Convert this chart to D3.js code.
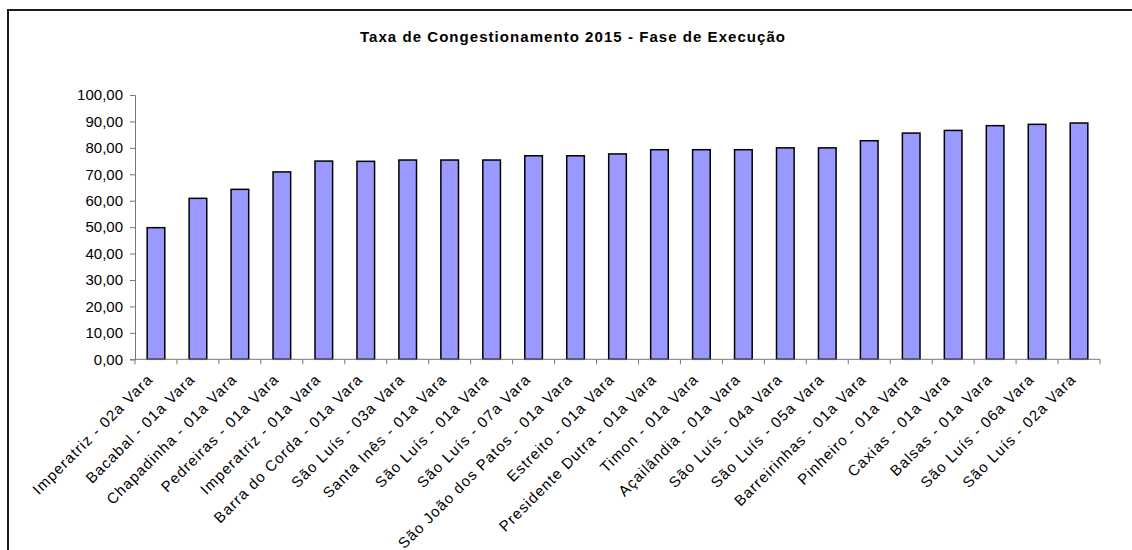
<!DOCTYPE html>
<html><head><meta charset="utf-8">
<script src="https://cdn.jsdelivr.net/npm/d3@7"></script>
<style>body{margin:0;background:#fff;}svg{display:block;font-family:"Liberation Sans",Arial,sans-serif;}</style>
</head><body>
<svg id="c" width="1132" height="550"></svg>
<script>
const title = "Taxa de Congestionamento 2015 - Fase de Execução";
const categories = [
  "Imperatriz  - 02a Vara","Bacabal  - 01a Vara","Chapadinha  - 01a Vara","Pedreiras  - 01a Vara",
  "Imperatriz  - 01a Vara","Barra do Corda  - 01a Vara","São Luís  - 03a Vara","Santa Inês  - 01a Vara",
  "São Luís  - 01a Vara","São Luís  - 07a Vara","São João dos Patos  - 01a Vara","Estreito  - 01a Vara",
  "Presidente Dutra  - 01a Vara","Timon  - 01a Vara","Açailândia  - 01a Vara","São Luís  - 04a Vara",
  "São Luís  - 05a Vara","Barreirinhas  - 01a Vara","Pinheiro  - 01a Vara","Caxias  - 01a Vara",
  "Balsas  - 01a Vara","São Luís  - 06a Vara","São Luís  - 02a Vara"];
const values = [49.8,60.9,64.3,70.9,75.0,74.9,75.4,75.4,75.4,77.0,77.0,77.7,79.3,79.3,79.3,80.0,80.0,82.7,85.6,86.6,88.4,88.9,89.4];
const yTicks = [0,10,20,30,40,50,60,70,80,90,100];

const svg = d3.select("#c");
const m = {left:135, right:1100, top:95, bottom:359.3};

svg.append("rect").attr("x",8).attr("y",10).attr("width",1200).attr("height",700)
  .attr("fill","none").attr("stroke","#1a1a1a").attr("stroke-width",2);

svg.append("text").attr("x",573).attr("y",42).attr("text-anchor","middle")
  .attr("font-size",15).attr("font-weight","bold").attr("letter-spacing",1.05).text(title);

const x = d3.scaleBand().domain(categories).range([m.left,m.right]).paddingInner(0.58).paddingOuter(0.29);
const xb = d3.scaleBand().domain(categories).range([m.left,m.right]);
const y = d3.scaleLinear().domain([0,100]).range([m.bottom,m.top]);
const fmt = v => d3.format(".2f")(v).replace(".",",");

// y axis
const ya = svg.append("g").attr("transform",`translate(${m.left},0)`)
  .call(d3.axisLeft(y).tickValues(yTicks).tickSize(5).tickPadding(7).tickFormat(fmt));
ya.select(".domain").attr("stroke","#777");
ya.selectAll(".tick line").attr("stroke","#777");
ya.selectAll(".tick text").attr("font-size",15).attr("fill","#000")
  .attr("font-family","Liberation Sans, Arial, sans-serif");

// bars
svg.append("g").selectAll("rect").data(values).join("rect")
  .attr("x",(d,i)=>x(categories[i]))
  .attr("y",d=>y(d))
  .attr("width",x.bandwidth())
  .attr("height",d=>y(0)-y(d))
  .attr("fill","#9999FF").attr("stroke","#000").attr("stroke-width",1.5);

// x axis
const xa = svg.append("g").attr("transform",`translate(0,${m.bottom})`);
xa.append("line").attr("x1",m.left).attr("x2",m.right).attr("stroke","#777").attr("stroke-width",1);
const bounds = categories.map(c=>xb(c)).concat([m.right]);
xa.selectAll("line.tk").data(bounds).join("line").attr("class","tk")
  .attr("x1",d=>d).attr("x2",d=>d).attr("y1",0).attr("y2",5).attr("stroke","#777");
xa.selectAll("text").data(categories).join("text")
  .attr("transform",c=>`translate(${xb(c)+xb.bandwidth()/2-2},21) rotate(-45)`)
  .attr("text-anchor","end").attr("font-size",15).attr("letter-spacing",1.1).attr("fill","#000")
  .text(c=>c);
</script>
</body></html>
